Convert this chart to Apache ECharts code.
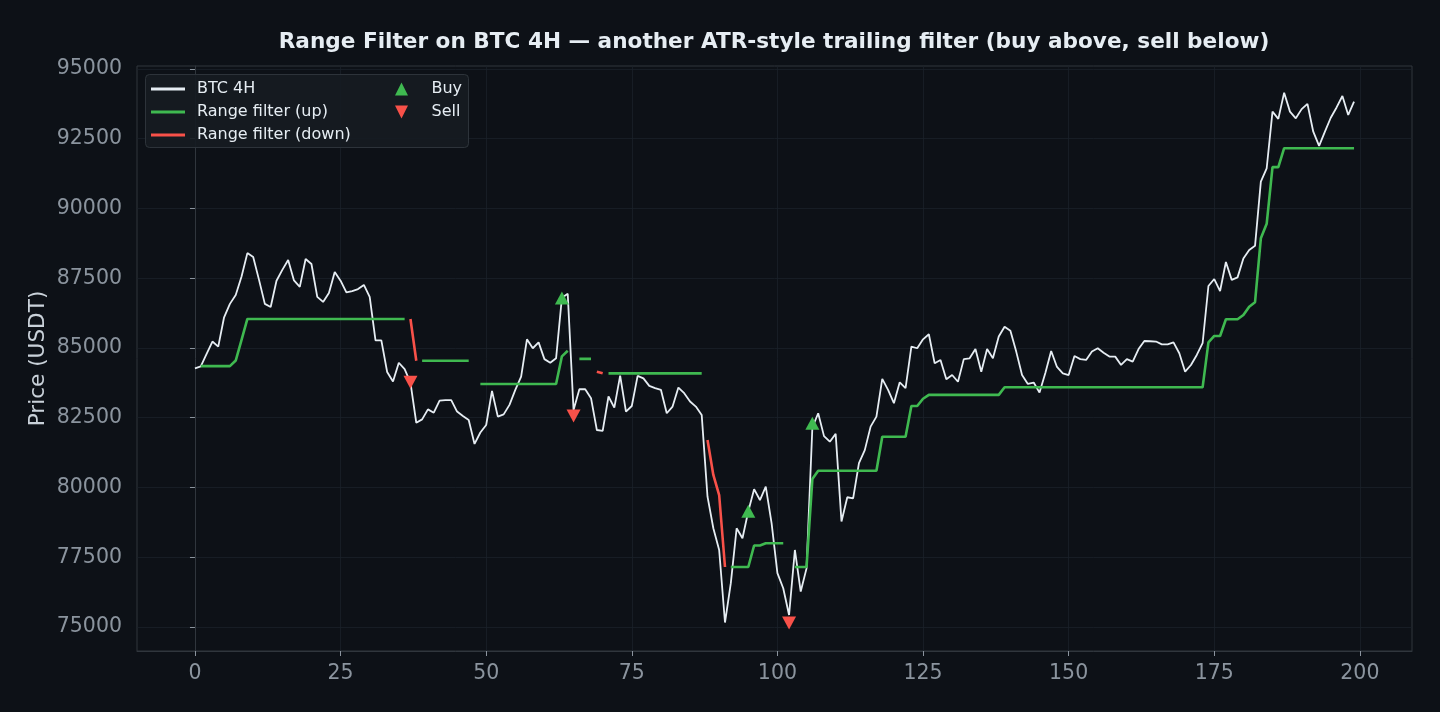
<!DOCTYPE html>
<html>
<head>
    <meta charset="utf-8">
    <title>Range Filter BTC 4H</title>
    <!-- 引入 echarts.js -->
    <script src="https://cdn.jsdelivr.net/npm/echarts@6/dist/echarts.min.js"></script>
</head>
<body style="margin:0;background:#0d1117;">

<div id="main" style="width:1440px;height:712px;"></div>

<script type="text/javascript">
    // BTC 4H close, bars 0..199
    var close = [
        84270, 84340, 84790, 85230, 85050, 86100, 86580, 86900, 87560, 88400,
        88260, 87440, 86580, 86470, 87410, 87800, 88150, 87420, 87190, 88190,
        88010, 86830, 86650, 86970, 87720, 87410, 86990, 87040, 87110, 87260,
        86830, 85270, 85270, 84140, 83800, 84470, 84240, 83760, 82320, 82440,
        82800, 82680, 83110, 83130, 83130, 82720, 82560, 82420, 81560, 81970,
        82240, 83460, 82540, 82620, 82960, 83500, 83970, 85310, 84990, 85200,
        84600, 84470, 84630, 86800, 86940, 82780, 83520, 83520, 83200, 82060,
        82030, 83260, 82860, 84010, 82720, 82920, 84000, 83910, 83640, 83560,
        83500, 82660, 82900, 83580, 83380, 83080, 82900, 82600, 79670, 78540,
        77760, 75160, 76570, 78540, 78180, 79150, 79940, 79550, 80030, 78720,
        76930, 76390, 75430, 77760, 76270, 77100, 82150, 82660, 81840, 81640,
        81920, 78780, 79650, 79610, 80870, 81340, 82180, 82540, 83890, 83500,
        83020, 83770, 83560, 85050, 84990, 85310, 85490, 84450, 84570, 83880,
        84030, 83790, 84600, 84630, 84960, 84150, 84960, 84630, 85410, 85760,
        85620, 84870, 84030, 83710, 83760, 83400, 84100, 84890, 84320, 84090,
        84030, 84710, 84600, 84570, 84870, 84990, 84830, 84690, 84690, 84390,
        84600, 84510, 84960, 85250, 85240, 85230, 85130, 85130, 85200, 84810,
        84150, 84390, 84750, 85170, 87220, 87470, 87040, 88080, 87440, 87530,
        88210, 88510, 88660, 90960, 91440, 93470, 93210, 94150, 93470, 93230,
        93560, 93750, 92750, 92240, 92750, 93250, 93620, 94030, 93350, 93830
    ];

    // range filter while trend is up (null = not drawn)
    var filterUp = [
        null, 84350, 84350, 84350, 84350, 84350, 84350, 84550, 85290, 86040,
        86040, 86040, 86040, 86040, 86040, 86040, 86040, 86040, 86040, 86040,
        86040, 86040, 86040, 86040, 86040, 86040, 86040, 86040, 86040, 86040,
        86040, 86040, 86040, 86040, 86040, 86040, 86040, null, null, 84540,
        84540, 84540, 84540, 84540, 84540, 84540, 84540, 84540, null, 83710,
        83710, 83710, 83710, 83710, 83710, 83710, 83710, 83710, 83710, 83710,
        83710, 83710, 83710, 84700, 84900, null, 84610, 84610, 84610, null,
        null, 84090, 84090, 84090, 84090, 84090, 84090, 84090, 84090, 84090,
        84090, 84090, 84090, 84090, 84090, 84090, 84090, 84090, null, null,
        null, null, 77150, 77150, 77150, 77150, 77920, 77920, 78000, 78000,
        78000, 78000, null, 77150, 77150, 77150, 80300, 80600, 80600, 80600,
        80600, 80600, 80600, 80600, 80600, 80600, 80600, 80600, 81820, 81820,
        81820, 81820, 81820, 82920, 82920, 83180, 83320, 83320, 83320, 83320,
        83320, 83320, 83320, 83320, 83320, 83320, 83320, 83320, 83320, 83590,
        83590, 83590, 83590, 83590, 83590, 83590, 83590, 83590, 83590, 83590,
        83590, 83590, 83590, 83590, 83590, 83590, 83590, 83590, 83590, 83590,
        83590, 83590, 83590, 83590, 83590, 83590, 83590, 83590, 83590, 83590,
        83590, 83590, 83590, 83590, 85200, 85430, 85430, 86030, 86030, 86030,
        86180, 86480, 86640, 88930, 89450, 91480, 91480, 92160, 92160, 92160,
        92160, 92160, 92160, 92160, 92160, 92160, 92160, 92160, 92160, 92160
    ];

    // range filter while trend is down
    var filterDown = [
        null, null, null, null, null, null, null, null, null, null,
        null, null, null, null, null, null, null, null, null, null,
        null, null, null, null, null, null, null, null, null, null,
        null, null, null, null, null, null, null, 86040, 84540, null,
        null, null, null, null, null, null, null, null, null, null,
        null, null, null, null, null, null, null, null, null, null,
        null, null, null, null, null, null, null, null, null, 84150,
        84090, null, null, null, null, null, null, null, null, null,
        null, null, null, null, null, null, null, null, 81700, 80450,
        79730, 77150, null, null, null, null, null, null, null, null,
        null, null, null, null, null, null, null, null, null, null,
        null, null, null, null, null, null, null, null, null, null,
        null, null, null, null, null, null, null, null, null, null,
        null, null, null, null, null, null, null, null, null, null,
        null, null, null, null, null, null, null, null, null, null,
        null, null, null, null, null, null, null, null, null, null,
        null, null, null, null, null, null, null, null, null, null,
        null, null, null, null, null, null, null, null, null, null,
        null, null, null, null, null, null, null, null, null, null,
        null, null, null, null, null, null, null, null, null, null
    ];

    var buyIdx = [63, 95, 106];
    var buyPrice = [86790, 79150, 82300];
    var sellIdx = [37, 65, 102];
    var sellPrice = [83770, 82560, 75140];

    var xTicks = [0, 25, 50, 75, 100, 125, 150, 175, 200];
    var yTicks = [75000, 77500, 80000, 82500, 85000, 87500, 90000, 92500, 95000];

    var FONT = 'DejaVu Sans';
    var C_BG = '#0d1117';
    var C_PRICE = '#e6edf3';
    var C_UP = '#3fb950';
    var C_DOWN = '#f85149';
    var C_GRID = '#1b2129';
    var C_SPINE = '#30363d';
    var C_TICK = '#8b949e';

    function pairs(arr) {
        var out = [];
        for (var i = 0; i < arr.length; i++) {
            out.push([i, arr[i]]);
        }
        return out;
    }
    function markers(idx, price) {
        var out = [];
        for (var i = 0; i < idx.length; i++) {
            out.push([idx[i], price[i]]);
        }
        return out;
    }

    var myChart = echarts.init(document.getElementById('main'));

    myChart.setOption({
        backgroundColor: C_BG,
        animation: false,
        title: {
            text: 'Range Filter on BTC 4H — another ATR-style trailing filter (buy above, sell below)',
            left: 769,
            top: 26,
            textAlign: 'center',
            textStyle: {
                color: '#e6edf3',
                fontFamily: FONT,
                fontWeight: 'bold',
                fontSize: 21.6
            }
        },
        grid: {
            left: 137,
            right: 28,
            top: 66,
            bottom: 61,
            show: true,
            backgroundColor: C_BG,
            borderColor: C_SPINE,
            borderWidth: 1
        },
        graphic: [{
            type: 'rect',
            left: 145,
            top: 74,
            z: 3,
            shape: { width: 323, height: 73, r: 4 },
            style: { fill: '#161b22', stroke: C_SPINE, lineWidth: 1, opacity: 0.92 }
        }],
        legend: [{
            orient: 'vertical',
            left: 151,
            top: 80,
            padding: 0,
            z: 5,
            itemWidth: 34,
            itemHeight: 3,
            itemGap: 5,
            icon: 'rect',
            textStyle: { color: '#e6edf3', fontFamily: FONT, fontSize: 16, lineHeight: 18, padding: [0, 0, 0, 7] },
            data: ['BTC 4H', 'Range filter (up)', 'Range filter (down)']
        }, {
            orient: 'vertical',
            left: 395,
            top: 80,
            padding: 0,
            z: 5,
            itemWidth: 14,
            itemHeight: 13,
            itemGap: 5,
            symbolKeepAspect: true,
            textStyle: { color: '#e6edf3', fontFamily: FONT, fontSize: 16, lineHeight: 18, padding: [0, 0, 0, 18] },
            data: [
                { name: 'Buy', icon: 'path://M10,0L20,20L0,20Z' },
                { name: 'Sell', icon: 'path://M0,0L20,0L10,20Z' }
            ]
        }],
        xAxis: {
            type: 'value',
            min: -9.95,
            max: 208.95,
            axisLine: { show: true, lineStyle: { color: C_SPINE } },
            axisTick: { show: true, length: 5, customValues: xTicks, lineStyle: { color: C_TICK } },
            axisLabel: {
                customValues: xTicks,
                margin: 12,
                color: C_TICK,
                fontFamily: FONT,
                fontSize: 20.5
            },
            splitLine: { show: true, lineStyle: { color: C_GRID, width: 0.8 } }
        },
        yAxis: {
            type: 'value',
            min: 74140,
            max: 95105,
            name: 'Price (USDT)',
            nameLocation: 'middle',
            nameRotate: 90,
            nameGap: 88,
            nameMoveOverlap: false,
            nameTextStyle: { color: '#c9d1d9', fontFamily: FONT, fontSize: 21.6 },
            axisLine: { show: true, lineStyle: { color: C_SPINE } },
            axisTick: { show: true, length: 5, customValues: yTicks, lineStyle: { color: C_TICK } },
            axisLabel: {
                customValues: yTicks,
                margin: 15,
                color: C_TICK,
                fontFamily: FONT,
                fontSize: 20.5,
                formatter: function (v) { return String(v); }
            },
            splitLine: { show: true, lineStyle: { color: C_GRID, width: 0.8 } }
        },
        series: [{
            name: 'BTC 4H',
            type: 'line',
            data: pairs(close),
            showSymbol: false,
            symbol: 'none',
            color: C_PRICE,
            lineStyle: { color: C_PRICE, width: 1.8 },
            z: 2
        }, {
            name: 'Range filter (up)',
            type: 'line',
            data: pairs(filterUp),
            showSymbol: false,
            symbol: 'none',
            connectNulls: false,
            color: C_UP,
            lineStyle: { color: C_UP, width: 2.6 },
            z: 3
        }, {
            name: 'Range filter (down)',
            type: 'line',
            data: pairs(filterDown),
            showSymbol: false,
            symbol: 'none',
            connectNulls: false,
            color: C_DOWN,
            lineStyle: { color: C_DOWN, width: 2.6 },
            z: 3
        }, {
            name: 'Buy',
            type: 'scatter',
            data: markers(buyIdx, buyPrice),
            symbol: 'triangle',
            symbolSize: [14, 13],
            itemStyle: { color: C_UP, opacity: 1 },
            z: 4
        }, {
            name: 'Sell',
            type: 'scatter',
            data: markers(sellIdx, sellPrice),
            symbol: 'triangle',
            symbolRotate: 180,
            symbolSize: [14, 13],
            itemStyle: { color: C_DOWN, opacity: 1 },
            z: 4
        }]
    });
</script>
</body>
</html>
